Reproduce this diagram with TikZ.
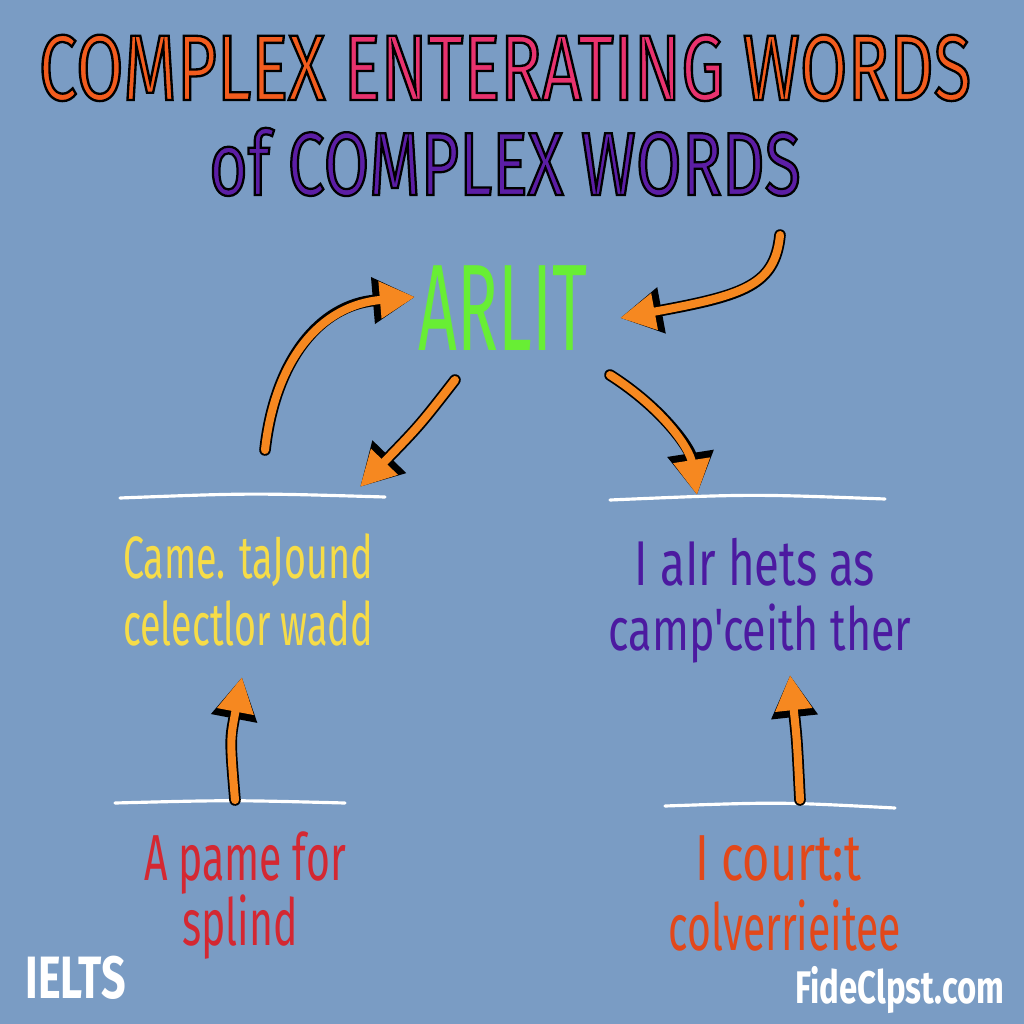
\documentclass[tikz,border=0pt]{standalone}
\usepackage{fontspec}
\setmainfont{Fira Sans}
\newfontfamily\mano[FakeStretch=0.72]{Fira Sans}
\newfontfamily\manoangosta[FakeStretch=0.63]{Fira Sans}
\newfontfamily\manotitulo[FakeStretch=0.74,FakeBold=2.5]{Fira Sans}
\newfontfamily\manoarlit[FakeStretch=0.55]{Fira Sans}
\usetikzlibrary{arrows.meta}
\definecolor{fondo}{RGB}{122,156,196}
\definecolor{naranja}{RGB}{242,92,30}
\definecolor{rosa}{RGB}{232,50,110}
\definecolor{morado}{RGB}{92,30,165}
\definecolor{verde}{RGB}{104,238,52}
\definecolor{amarillo}{RGB}{246,220,72}
\definecolor{violeta}{RGB}{76,26,160}
\definecolor{rojo}{RGB}{212,40,50}
\definecolor{rojizo}{RGB}{226,72,26}
\definecolor{naranjaflecha}{RGB}{246,136,32}

% letras con borde negro
\newcommand\borde[2]{\textcolor{#1}{\special{pdf:literal direct 0 0 0 RG}#2}}

\tikzset{
    flecha/.style={draw=naranjaflecha, line width=2.3pt, line cap=round,
        -{Triangle[length=10pt,width=10pt]},
        preaction={draw=black, line width=3.3pt, line cap=round,
            -{Triangle[length=12pt,width=12.5pt]}}},
    linea/.style={draw=white, line width=0.9pt, line cap=round},
    texto/.style={anchor=base, inner sep=0pt, font=\mano\fontsize{17}{20}\selectfont},
    textoangosto/.style={anchor=base, inner sep=0pt, font=\manoangosta\fontsize{17}{20}\selectfont},
    textogrande/.style={anchor=base, inner sep=0pt, font=\mano\fontsize{18.5}{22}\selectfont},
    titulo/.style={anchor=base, inner sep=0pt, font=\manotitulo\fontsize{26.5}{30}\selectfont},
    marca/.style={inner sep=0pt, text=white, font=\mano\bfseries\fontsize{14}{16}\selectfont},
}

\begin{document}
\begin{tikzpicture}[x=0.01cm, y=-0.01cm]
    % Fondo
    \fill[fondo] (0,0) rectangle (1024,1024);
    \useasboundingbox (0,0) rectangle (1024,1024);

    % Titulo
    \node[titulo] (titulo1) at (505,100)
        {\borde{naranja}{COMPLEX} \borde{rosa}{ENTERATING} \borde{naranja}{WORDS}};
    \node[titulo, font=\manotitulo\fontsize{25.5}{30}\selectfont] (titulo2) at (505,195)
        {\borde{morado}{of COMPLEX WORDS}};

    % Palabra central
    \node[anchor=base, inner sep=0pt, font=\manoarlit\fontsize{35}{40}\selectfont, text=verde] (arlit) at (503,350) {ARLIT};

    % Textos del medio
    \node[textoangosto, text=amarillo] (izq1) at (248,578) {Came. taJound};
    \node[textoangosto, text=amarillo] (izq2) at (248,645) {celectlor wadd};
    \node[texto, text=violeta, font=\mano\fontsize{18}{20}\selectfont] (der1) at (755,585) {I aIr hets as};
    \node[texto, text=violeta] (der2) at (760,650) {camp'ceith ther};

    % Textos de abajo
    \node[textogrande, text=rojo, font=\manoangosta\fontsize{18.5}{22}\selectfont] (abajoizq1) at (245,880) {A pame for};
    \node[textogrande, text=rojo, font=\manoangosta\fontsize{18.5}{22}\selectfont] (abajoizq2) at (240,945) {splind};
    \node[textogrande, text=rojizo] (abajoder1) at (778,880) {I court:t};
    \node[textogrande, text=rojizo, font=\manoangosta\fontsize{18.5}{22}\selectfont] (abajoder2) at (785,950) {colverrieitee};

    % Marcas
    \node[marca, anchor=base west, font=\mano\bfseries\fontsize{17}{18}\selectfont] (ielts) at (25,998) {IELTS};
    \node[marca, anchor=base east, font=\mano\bfseries\fontsize{13}{16}\selectfont] (web) at (1005,1003) {FideClpst.com};

    % Lineas blancas
    \draw[linea] (120,498) .. controls (250,493) .. (385,497);
    \draw[linea] (610,500) .. controls (750,494) .. (885,499);
    \draw[linea] (115,803) .. controls (230,800) .. (345,803);
    \draw[linea] (665,806) .. controls (780,802) .. (895,808);

    % Puntos de las flechas
    \coordinate (f1a) at (265,450);
    \coordinate (f1b) at (415,297);
    \coordinate (f2a) at (780,235);
    \coordinate (f2b) at (620,318);
    \coordinate (f3a) at (455,380);
    \coordinate (f3b) at (360,487);
    \coordinate (f4a) at (610,375);
    \coordinate (f4b) at (697,495);
    \coordinate (f5a) at (235,800);
    \coordinate (f5b) at (242,677);
    \coordinate (f6a) at (800,800);
    \coordinate (f6b) at (790,675);

    % Flechas
    \draw[flecha] (f1a) .. controls (275,360) and (320,305) .. (f1b);
    \draw[flecha] (f2a) .. controls (775,285) and (745,295) .. (f2b);
    \draw[flecha] (f3a) .. controls (420,425) .. (f3b);
    \draw[flecha] (f4a) .. controls (665,410) and (690,450) .. (f4b);
    \draw[flecha] (f5a) .. controls (230,740) .. (f5b);
    \draw[flecha] (f6a) .. controls (797,740) .. (f6b);
\end{tikzpicture}
\end{document}
